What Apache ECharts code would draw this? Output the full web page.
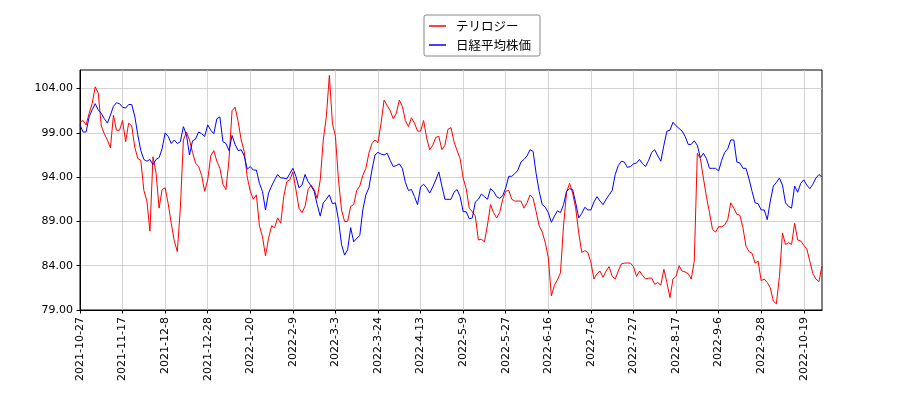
<!DOCTYPE html>
<html>
<head>
<meta charset="utf-8">
<script src="https://cdn.jsdelivr.net/npm/echarts@6/dist/echarts.min.js"></script>
<style>
  html, body { margin: 0; padding: 0; background: #fff; }
  #chart { width: 900px; height: 400px; }
</style>
</head>
<body>
<div id="chart"></div>
<script>
// tick labels every 14 trading days, starting at index 0
var xLabels = ['2021-10-27', '2021-11-17', '2021-12-8', '2021-12-28', '2022-1-20', '2022-2-9',
  '2022-3-3', '2022-3-24', '2022-4-13', '2022-5-9', '2022-5-27', '2022-6-16', '2022-7-6',
  '2022-7-27', '2022-8-17', '2022-9-6', '2022-9-28', '2022-10-19'];
var xStep = 14;
var yTicks = [79, 84, 89, 94, 99, 104];

// テリロジー (red)
var terilogy = [
  100.2, 100.4, 99.9, 101.2, 102.3, 104.2, 103.5, 99.8, 98.9, 98.2,
  97.3, 101.0, 99.3, 99.3, 100.4, 98.0, 100.1, 99.8, 97.4, 96.1,
  95.9, 92.5, 91.3, 87.9, 96.3, 94.5, 90.5, 92.6, 92.8, 91.0,
  88.8, 86.8, 85.6, 90.5, 98.2, 99.1, 98.2, 96.8, 95.6, 95.2,
  94.2, 92.4, 93.7, 96.4, 97.0, 95.8, 95.0, 93.2, 92.6, 96.0,
  101.5, 101.9, 100.3, 98.2, 96.9, 94.0, 92.4, 91.5, 92.0, 88.5,
  87.3, 85.1, 87.1, 88.5, 88.3, 89.4, 88.8, 91.8, 93.5, 93.7,
  94.6, 92.6, 90.5, 90.0, 90.7, 92.6, 93.1, 92.6, 91.6, 93.7,
  98.2, 100.8, 105.5, 100.1, 98.6, 93.7, 90.3, 89.0, 89.0, 90.7,
  90.9, 92.5, 93.0, 94.2, 95.0, 96.7, 97.8, 98.2, 97.9, 100.1,
  102.7, 102.1, 101.5, 100.6, 101.2, 102.7, 102.0, 100.4, 99.7, 100.7,
  100.1, 99.2, 99.2, 100.4, 98.4, 97.1, 97.6, 98.5, 98.6, 97.1,
  97.6, 99.4, 99.6, 98.0, 97.0, 96.1, 93.9, 92.7, 90.5, 90.1,
  89.6, 86.9, 87.0, 86.7, 88.6, 90.9, 90.0, 89.4, 90.0, 91.5,
  92.4, 92.5, 91.5, 91.3, 91.3, 91.3, 90.5, 91.1, 92.0, 91.6,
  90.1, 88.5, 87.8, 86.6, 84.9, 80.6, 81.8, 82.4, 83.2, 88.5,
  92.3, 93.3, 92.2, 90.5, 87.7, 85.5, 85.7, 85.5, 84.4, 82.5,
  83.1, 83.4, 82.7, 83.4, 83.9, 82.8, 82.5, 83.4, 84.2, 84.3,
  84.3, 84.3, 83.9, 82.8, 83.4, 82.9, 82.5, 82.6, 82.6, 81.9,
  82.1, 81.8, 83.6, 82.1, 80.4, 82.5, 82.8, 84.0, 83.4, 83.3,
  83.1, 82.5, 84.5, 96.7, 96.1, 93.9, 91.8, 90.0, 88.1, 87.8,
  88.4, 88.4, 88.6, 89.2, 91.1, 90.5, 89.8, 89.7, 88.3, 86.2,
  85.6, 85.4, 84.3, 84.5, 82.3, 82.5, 82.1, 81.5, 80.0, 79.7,
  82.8, 87.7, 86.4, 86.6, 86.4, 88.8, 86.9, 86.8, 86.3, 85.9,
  84.5, 83.1, 82.5, 82.2, 84.0
];

// 日経平均株価 (blue, rebased)
var nikkei = [
  99.9, 99.1, 99.1, 100.8, 101.6, 102.3, 101.6, 101.2, 100.6, 100.1,
  101.0, 102.0, 102.4, 102.3, 101.9, 101.8, 102.2, 102.2, 100.9, 98.8,
  97.0, 96.0, 95.8, 96.0, 95.4, 96.0, 96.2, 97.2, 99.0, 98.6,
  97.8, 98.2, 97.8, 98.0, 99.7, 98.8, 96.5, 98.1, 98.3, 99.1,
  98.9, 98.6, 99.9, 99.3, 98.9, 100.6, 100.8, 98.0, 97.8, 97.0,
  98.7, 97.7, 97.0, 97.1, 96.4, 94.9, 95.2, 94.8, 94.8, 93.3,
  92.4, 90.3, 92.2, 93.0, 93.7, 94.3, 93.9, 93.9, 93.8, 94.4,
  95.0, 94.1, 92.8, 93.1, 94.3, 93.5, 93.0, 92.4, 90.9, 89.6,
  91.1, 91.5, 92.0, 91.0, 91.1, 89.2, 86.4, 85.2, 85.8, 88.3,
  86.7, 87.1, 87.4, 90.3, 92.0, 92.8, 94.8, 96.5, 96.8, 96.6,
  96.5, 96.7, 95.9, 95.2, 95.3, 95.5, 95.0, 93.4, 92.5, 92.6,
  91.8, 90.9, 92.9, 93.2, 92.8, 92.2, 92.9, 93.7, 94.6, 93.0,
  91.5, 91.5, 91.5, 92.3, 92.6, 91.8, 90.1, 90.1, 89.3, 89.4,
  91.2, 91.5, 92.1, 91.8, 91.5, 92.7, 92.4, 91.8, 91.6, 91.9,
  92.8, 94.1, 94.1, 94.4, 94.8, 95.7, 96.0, 96.4, 97.1, 96.9,
  94.4, 92.4, 90.9, 90.6, 90.0, 88.9, 89.6, 90.2, 90.0, 90.9,
  92.4, 92.7, 92.6, 91.1, 89.4, 89.9, 90.6, 90.3, 90.3, 91.2,
  91.8, 91.3, 90.9, 91.5, 92.0, 92.5, 94.3, 95.3, 95.8, 95.7,
  95.1, 95.2, 95.5, 95.6, 96.0, 95.5, 95.2, 95.9, 96.8, 97.1,
  96.4, 95.8, 97.6, 99.2, 99.3, 100.2, 99.8, 99.5, 99.2, 98.6,
  97.7, 97.7, 98.1, 97.6, 96.2, 96.7, 96.1, 95.0, 95.0, 95.0,
  94.7, 95.9, 96.8, 97.2, 98.2, 98.2, 95.7, 95.6, 95.0, 95.0,
  93.8, 92.4, 91.1, 91.0, 90.3, 90.3, 89.2, 91.3, 93.0, 93.4,
  93.9, 93.1, 91.1, 90.7, 90.5, 93.0, 92.3, 93.3, 93.7, 93.1,
  92.7, 93.2, 93.9, 94.3, 94.0
];

var xTicks = xLabels.map(function (_, k) { return k * xStep; });
var lastIndex = terilogy.length - 1;

function toPoints(arr) {
  return arr.map(function (v, i) { return [i, v]; });
}

var chart = echarts.init(document.getElementById('chart'), null, { renderer: 'canvas' });

var axisText = { color: '#000', fontFamily: 'DejaVu Sans', fontSize: 11 };

var option = {
  backgroundColor: '#ffffff',
  animation: false,
  grid: {
    left: 80, right: 78, top: 70, bottom: 90,
    show: true, borderColor: '#000', borderWidth: 1, backgroundColor: 'transparent'
  },
  legend: {
    orient: 'vertical',
    left: 424,
    top: 15,
    icon: 'rect',
    itemWidth: 17,
    itemHeight: 1.5,
    itemGap: 5,
    padding: [4, 9, 4, 5],
    backgroundColor: '#fff',
    borderColor: '#888',
    borderWidth: 1,
    borderRadius: 2,
    textStyle: {
      color: '#000', fontFamily: 'Noto Sans CJK JP', fontSize: 12.5,
      lineHeight: 14, padding: [0, 0, 0, 5]
    },
    data: ['テリロジー', '日経平均株価']
  },
  xAxis: {
    type: 'value',
    min: 0,
    max: lastIndex,
    axisLine: { lineStyle: { color: '#000', width: 1 } },
    axisTick: { customValues: xTicks, length: 3.5, lineStyle: { color: '#000' } },
    axisLabel: Object.assign({
      customValues: xTicks,
      rotate: 90,
      margin: 7,
      formatter: function (v) { return xLabels[Math.round(v / xStep)]; }
    }, axisText),
    splitLine: { show: true, lineStyle: { color: '#c8c8c8', width: 0.8 } }
  },
  yAxis: {
    type: 'value',
    min: 79,
    max: 106.1,
    axisLine: { show: true, lineStyle: { color: '#000', width: 1 } },
    axisTick: { show: true, customValues: yTicks, length: 3.5, lineStyle: { color: '#000' } },
    axisLabel: Object.assign({
      customValues: yTicks,
      margin: 7,
      formatter: function (v) { return v.toFixed(2); }
    }, axisText),
    splitLine: { show: true, lineStyle: { color: '#c8c8c8', width: 0.8 } }
  },
  series: [
    {
      name: 'テリロジー',
      type: 'line',
      data: toPoints(terilogy),
      symbol: 'none',
      color: '#ff0000',
      lineStyle: { color: '#ff0000', width: 1 }
    },
    {
      name: '日経平均株価',
      type: 'line',
      data: toPoints(nikkei),
      symbol: 'none',
      color: '#0000ff',
      lineStyle: { color: '#0000ff', width: 1 }
    }
  ]
};

chart.setOption(option);
</script>
</body>
</html>
